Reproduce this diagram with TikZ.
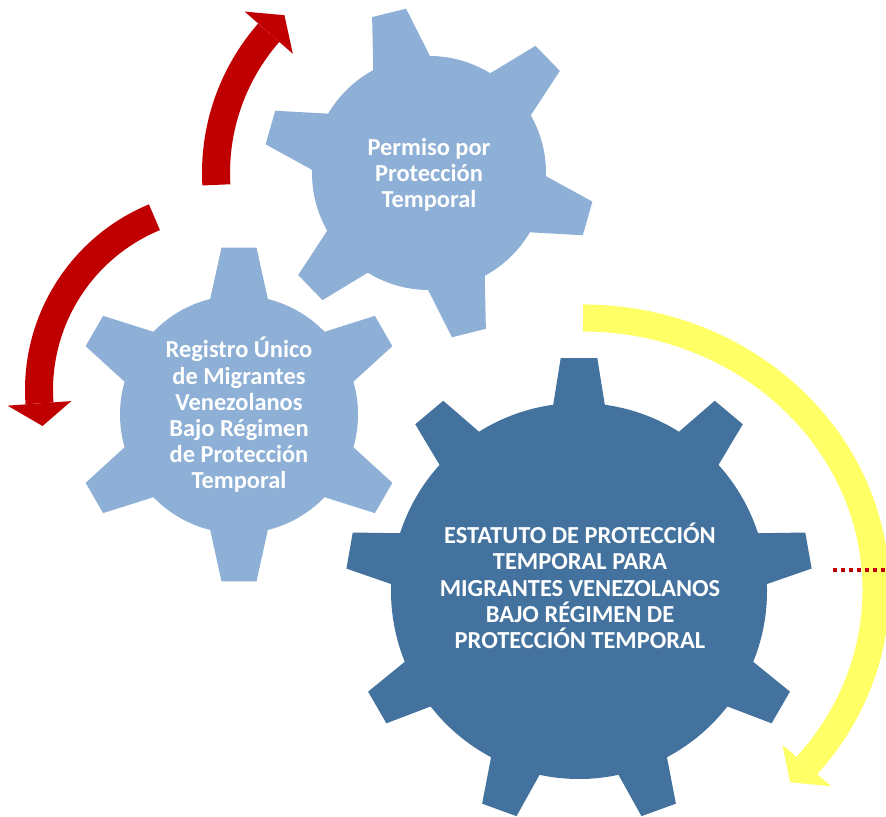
\documentclass[tikz,border=0pt]{standalone}
\usepackage{fontspec}
\setmainfont{Carlito}
\usepackage{xcolor}
\usetikzlibrary{calc}
\definecolor{gearlight}{RGB}{142,176,214}
\definecolor{geardark}{RGB}{66,114,157}
\definecolor{arrowred}{RGB}{192,0,0}
\definecolor{arrowyellow}{RGB}{255,255,102}

\begin{document}
\begin{tikzpicture}[x=0.01cm, y=0.01cm,
  gearlabel/.style={text=white, align=center, font=\bfseries\fontsize{6.95pt}{7.45pt}\selectfont},
  gearbody/.style={fill=#1, preaction={draw=white, line width=0.03cm}},
  bandarrow/.style={draw=#1, line width=0.28cm},
  dotline/.style={draw=arrowred, line width=0.035cm, dash pattern=on 0.04cm off 0.04cm}]
  \fill[white] (0,0) rectangle (886,816);
  \useasboundingbox (0,0) rectangle (886,816);
  \clip (0,0) rectangle (886,816);
  \coordinate (registroc) at (239,401.5);
  \coordinate (permisoc) at (429,643);
  \coordinate (estatutoc) at (579,225);
  \coordinate (lowarc) at (226,426);
  \coordinate (yelarc) at (583,226);
  \begin{scope}[shift={(registroc)}]
    \path[gearbody=gearlight] (0,0) circle (119)
      (72.15:105.1) -- (84.02:167.9) -- (95.98:167.9) -- (107.85:105.1) -- cycle
      (12.15:105.1) -- (24.02:167.9) -- (35.98:167.9) -- (47.85:105.1) -- cycle
      (-47.85:105.1) -- (-35.98:167.9) -- (-24.02:167.9) -- (-12.15:105.1) -- cycle
      (-107.85:105.1) -- (-95.98:167.9) -- (-84.02:167.9) -- (-72.15:105.1) -- cycle
      (-167.85:105.1) -- (-155.98:167.9) -- (-144.02:167.9) -- (-132.15:105.1) -- cycle
      (132.15:105.1) -- (144.02:167.9) -- (155.98:167.9) -- (167.85:105.1) -- cycle;
  \end{scope}
  \begin{scope}[shift={(permisoc)}]
    \path[gearbody=gearlight] (0,0) circle (117)
      (86.15:105.1) -- (97.95:165.9) -- (110.05:165.9) -- (121.85:105.1) -- cycle
      (26.15:105.1) -- (37.95:165.9) -- (50.05:165.9) -- (61.85:105.1) -- cycle
      (-33.85:105.1) -- (-22.05:165.9) -- (-9.95:165.9) -- (1.85:105.1) -- cycle
      (-93.85:105.1) -- (-82.05:165.9) -- (-69.95:165.9) -- (-58.15:105.1) -- cycle
      (-153.85:105.1) -- (-142.05:165.9) -- (-129.95:165.9) -- (-118.15:105.1) -- cycle
      (146.15:105.1) -- (157.95:165.9) -- (170.05:165.9) -- (181.85:105.1) -- cycle;
  \end{scope}
  \begin{scope}[shift={(estatutoc)}]
    \path[gearbody=geardark] (0,0) circle (188)
      (80.52:172.4) -- (85.51:233.7) -- (94.49:233.7) -- (99.48:172.4) -- cycle
      (40.52:172.4) -- (45.51:233.7) -- (54.49:233.7) -- (59.48:172.4) -- cycle
      (0.52:172.4) -- (5.51:233.7) -- (14.49:233.7) -- (19.48:172.4) -- cycle
      (-39.48:172.4) -- (-34.49:233.7) -- (-25.51:233.7) -- (-20.52:172.4) -- cycle
      (-79.48:172.4) -- (-74.49:233.7) -- (-65.51:233.7) -- (-60.52:172.4) -- cycle
      (-119.48:172.4) -- (-114.49:233.7) -- (-105.51:233.7) -- (-100.52:172.4) -- cycle
      (-159.48:172.4) -- (-154.49:233.7) -- (-145.51:233.7) -- (-140.52:172.4) -- cycle
      (160.52:172.4) -- (165.51:233.7) -- (174.49:233.7) -- (179.48:172.4) -- cycle
      (120.52:172.4) -- (125.51:233.7) -- (134.49:233.7) -- (139.48:172.4) -- cycle;
  \end{scope}
  \draw[bandarrow=arrowred] ($(permisoc)+(183.2:213)$) arc[start angle=183.2, end angle=138.8, radius=213];
  \fill[arrowred] ($(permisoc)+(138.8:245)$) -- ($(permisoc)+(132.5:214)$) -- ($(permisoc)+(138.8:181)$) -- cycle;
  \draw[bandarrow=arrowred] ($(lowarc)+(112.5:187)$) arc[start angle=112.5, end angle=184.1, radius=187];
  \fill[arrowred] ($(lowarc)+(184.1:219)$) -- ($(lowarc)+(191.1:187)$) -- ($(lowarc)+(184.1:155)$) -- cycle;
  \draw[draw=arrowyellow, line width=0.27cm] ($(yelarc)+(90:293 and 272)$) arc[start angle=90, end angle=-40.2, x radius=293, y radius=272];
  \fill[arrowyellow] ($(yelarc)+(-40.2:325 and 304)$) -- ($(yelarc)+(-45:293 and 272)$) -- ($(yelarc)+(-40.2:261 and 240)$) -- cycle;
  \coordinate (dotstart) at (833,246);
  \coordinate (dotend) at (886,246);
  \draw[dotline] (dotstart) -- (dotend);
  \node[gearlabel] (permiso) at (429,641) {Permiso por\\Protección\\Temporal};
  \node[gearlabel] (registro) at (239,401) {Registro Único\\de Migrantes\\Venezolanos\\Bajo Régimen\\de Protección\\Temporal};
  \node[gearlabel] (estatuto) at (580,230) {ESTATUTO DE PROTECCIÓN\\TEMPORAL PARA\\MIGRANTES VENEZOLANOS\\BAJO RÉGIMEN DE\\PROTECCIÓN TEMPORAL};
\end{tikzpicture}
\end{document}
